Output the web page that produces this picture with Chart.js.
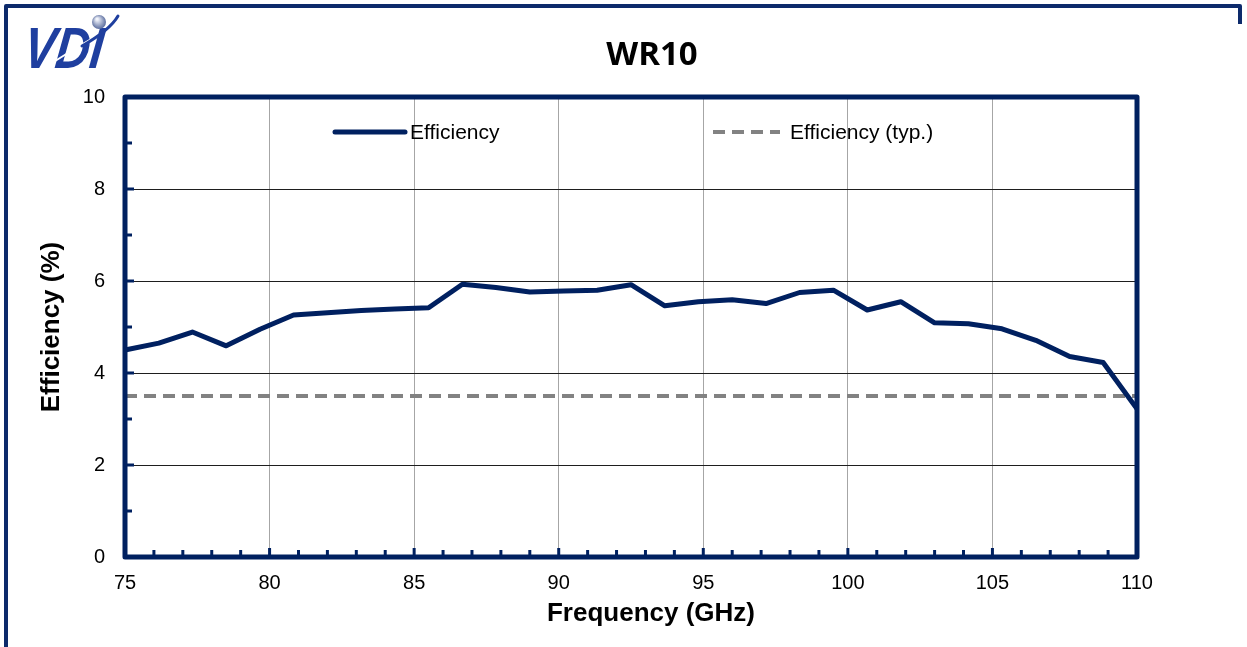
<!DOCTYPE html>
<html><head><meta charset="utf-8">
<script src="https://cdn.jsdelivr.net/npm/chart.js@4"></script>
<style>html,body{margin:0;padding:0;background:#fff;overflow:hidden}canvas{display:block}</style>
</head><body>
<canvas id="c" width="1247" height="647"></canvas>
<script>
// ---- data ----
const frequencies = [75, 76.17, 77.33, 78.5, 79.67, 80.83, 82, 83.17, 84.33, 85.5, 86.67, 87.83, 89, 90.17, 91.33, 92.5, 93.67, 94.83, 96, 97.17, 98.33, 99.5, 100.67, 101.83, 103, 104.17, 105.33, 106.5, 107.67, 108.83, 110];
const efficiency = [4.50, 4.65, 4.89, 4.59, 4.95, 5.26, 5.31, 5.36, 5.39, 5.42, 5.93, 5.86, 5.76, 5.78, 5.80, 5.92, 5.46, 5.55, 5.59, 5.51, 5.75, 5.80, 5.37, 5.55, 5.09, 5.07, 4.96, 4.71, 4.36, 4.23, 3.22];
const typFrequencies = [75, 110];
const typEfficiency = [3.5, 3.5];
const xTickValues = [75, 80, 85, 90, 95, 100, 105, 110];
const yTickValues = [0, 2, 4, 6, 8, 10];
const seriesNames = ['Efficiency', 'Efficiency (typ.)'];
const chartTitle = 'WR10';
const xAxisTitle = 'Frequency (GHz)';
const yAxisTitle = 'Efficiency (%)';
const logoText = 'VDI';

const NAVY = '#002060';
const FONT = "'Liberation Sans', Arial, sans-serif";

const deco = {
  id: 'deco',
  beforeDraw(chart) {
    const ctx = chart.ctx;
    ctx.save();
    ctx.fillStyle = '#fff';
    ctx.fillRect(0, 0, chart.width, chart.height);
    // page frame
    ctx.strokeStyle = '#0d2a6b';
    ctx.lineWidth = 4;
    ctx.lineJoin = 'round';
    ctx.beginPath();
    ctx.moveTo(6, chart.height + 5);
    ctx.lineTo(6, 6);
    ctx.lineTo(1240, 6);
    ctx.lineTo(1240, 24);
    ctx.stroke();
    // logo
    ctx.fillStyle = '#1f3f9f';
    ctx.font = "italic bold 58px " + FONT;
    ctx.textBaseline = 'alphabetic';
    ctx.textAlign = 'left';
    ctx.save();
    ctx.translate(22, 68);
    ctx.transform(0.82, 0, -0.12, 1, 0, 0);
    ctx.fillText(logoText, 0, 0);
    ctx.restore();
    // white slash through letters
    ctx.strokeStyle = '#ffffff';
    ctx.lineWidth = 2;
    ctx.beginPath();
    ctx.moveTo(38, 72); ctx.quadraticCurveTo(75, 48, 100, 34); ctx.stroke();
    // blue swoosh
    ctx.strokeStyle = '#1f3f9f';
    ctx.lineWidth = 3;
    ctx.lineCap = 'round';
    ctx.beginPath();
    ctx.moveTo(82, 46); ctx.quadraticCurveTo(110, 30, 118, 16); ctx.stroke();
    const g = ctx.createRadialGradient(97, 19, 1, 99, 22, 8);
    g.addColorStop(0, '#f0f3fb'); g.addColorStop(1, '#4b5f94');
    ctx.fillStyle = g;
    ctx.beginPath(); ctx.arc(99, 22, 7, 0, Math.PI * 2); ctx.fill();
    ctx.restore();
  },
  afterDatasetsDraw(chart) {
    const {ctx, chartArea: a, scales: {x, y}} = chart;
    ctx.save();
    // minor tick marks (inside)
    ctx.strokeStyle = NAVY;
    ctx.lineWidth = 3;
    for (let v = Math.ceil(x.min) + 1; v < x.max; v++) {
      const px = x.getPixelForValue(v);
      const len = v % 5 === 0 ? 9 : 7;
      ctx.beginPath(); ctx.moveTo(px, a.bottom); ctx.lineTo(px, a.bottom - len); ctx.stroke();
    }
    for (let v = y.min + 1; v < y.max; v++) {
      const py = y.getPixelForValue(v);
      const len = v % 2 === 0 ? 9 : 7;
      ctx.beginPath(); ctx.moveTo(a.left, py); ctx.lineTo(a.left + len, py); ctx.stroke();
    }
    // plot border
    ctx.lineWidth = 5;
    ctx.lineJoin = 'round';
    ctx.strokeRect(a.left, a.top, a.right - a.left, a.bottom - a.top);
    // legend
    const ds = chart.data.datasets;
    const items = [{x0: 335, x1: 405, tx: 410}, {x0: 713, x1: 780, tx: 790}];
    const ly = 132;
    ctx.font = "21px " + FONT;
    ctx.textBaseline = 'middle';
    ctx.textAlign = 'left';
    items.forEach((it, i) => {
      const d = ds[i];
      ctx.strokeStyle = d.borderColor;
      ctx.lineWidth = d.borderWidth;
      ctx.lineCap = i === 0 ? 'round' : 'butt';
      ctx.setLineDash(d.borderDash || []);
      ctx.beginPath(); ctx.moveTo(it.x0, ly); ctx.lineTo(it.x1, ly); ctx.stroke();
      ctx.setLineDash([]);
      ctx.fillStyle = '#000';
      ctx.fillText(d.label, it.tx, ly + 1);
    });
    // chart title
    ctx.fillStyle = '#000';
    ctx.textAlign = 'center';
    ctx.font = "bold 33px 'Open Sans', sans-serif";
    ctx.fillText(chartTitle, 652, 56);
    // x axis title
    ctx.font = "bold 26px " + FONT;
    ctx.fillText(xAxisTitle, 651, 614);
    ctx.restore();
  }
};

new Chart(document.getElementById('c'), {
  type: 'line',
  data: {
    datasets: [
      {
        label: seriesNames[0],
        data: frequencies.map((f, i) => ({x: f, y: efficiency[i]})),
        borderColor: NAVY,
        borderWidth: 5,
        borderJoinStyle: 'round',
        pointRadius: 0,
        tension: 0,
        fill: false,
        order: 1
      },
      {
        label: seriesNames[1],
        data: typFrequencies.map((f, i) => ({x: f, y: typEfficiency[i]})),
        borderColor: '#828282',
        borderWidth: 4,
        borderDash: [12, 7],
        pointRadius: 0,
        tension: 0,
        fill: false,
        order: 2
      }
    ]
  },
  plugins: [deco],
  options: {
    responsive: false,
    animation: false,
    devicePixelRatio: 1,
    clip: false,
    layout: {padding: {left: 0, right: 110, top: 97, bottom: 0}},
    plugins: {legend: {display: false}, title: {display: false}, tooltip: {enabled: false}},
    scales: {
      x: {
        type: 'linear',
        min: 75, max: 110,
        afterBuildTicks: s => { s.ticks = xTickValues.map(v => ({value: v})); },
        afterFit: s => { s.height = 90; },
        grid: {color: '#a6a6a6', lineWidth: 1, drawTicks: false},
        border: {display: false},
        ticks: {padding: 14, color: '#000', font: {family: FONT, size: 20}, maxRotation: 0, autoSkip: false}
      },
      y: {
        type: 'linear',
        min: 0, max: 10,
        afterBuildTicks: s => { s.ticks = yTickValues.map(v => ({value: v})); },
        afterFit: s => { s.width = 125; },
        grid: {color: '#1e1e1e', lineWidth: 1, drawTicks: false},
        border: {display: false},
        ticks: {padding: 20, color: '#000', font: {family: FONT, size: 20}},
        title: {display: true, text: yAxisTitle, color: '#000', font: {family: FONT, size: 26, weight: 'bold'}, padding: {top: 36, bottom: 0}}
      }
    }
  }
});
</script>
</body></html>
